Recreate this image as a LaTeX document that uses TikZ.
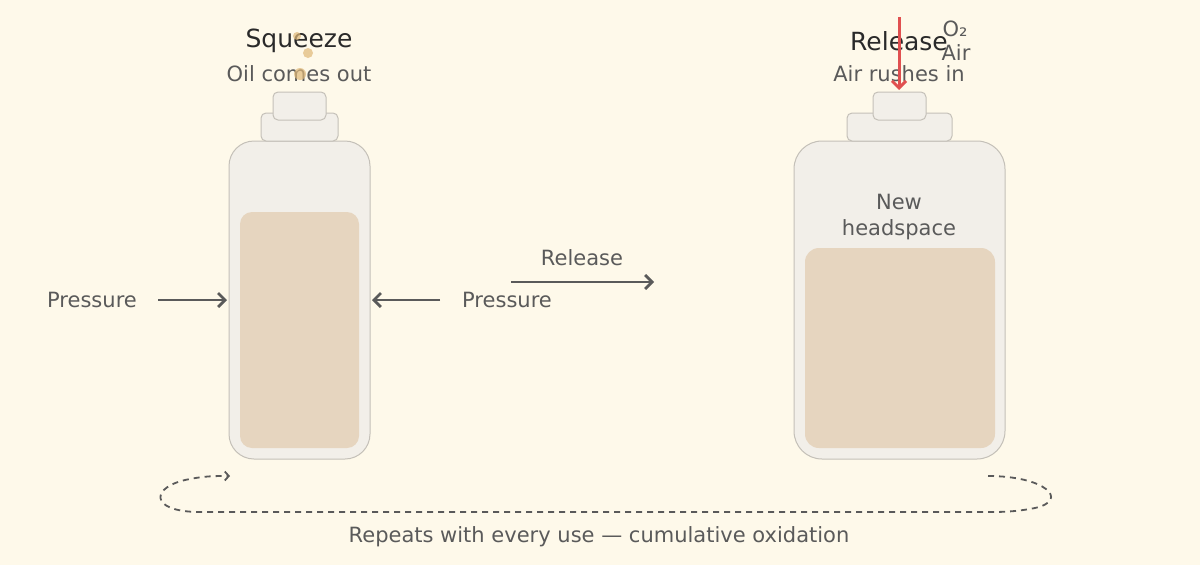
\documentclass[tikz,border=0pt]{standalone}
\usepackage{fontspec}
\setmainfont{DejaVu Sans}
\usetikzlibrary{arrows.meta}
\definecolor{bg}{HTML}{FEF9EA}
\definecolor{bfill}{HTML}{F2EFE9}
\definecolor{bline}{HTML}{C4C0B8}
\definecolor{oil}{HTML}{E6D5BF}
\definecolor{txt}{HTML}{5A5A5A}
\definecolor{ttl}{HTML}{2A2A2A}
\definecolor{drop}{HTML}{E0B878}
\definecolor{red}{HTML}{E05050}
\begin{document}
\begin{tikzpicture}[x=1pt,y=-1pt,
  glass/.style={fill=bfill,draw=bline,line width=1pt},
  oilf/.style={fill=oil,draw=none},
  lbl/.style={text=txt,font=\fontsize{21}{25}\selectfont},
  ttlf/.style={text=ttl,font=\fontsize{25}{30}\selectfont},
  arr/.style={draw=txt,line width=2.8pt,-{Straight Barb[length=7pt,width=14pt]}},
  dsh/.style={draw=txt,line width=1.8pt,dash pattern=on 6pt off 5pt}]
\fill[bg] (0,0) rectangle (1200,565);
\useasboundingbox (0,0) rectangle (1200,565);
% left bottle
\draw[glass,rounded corners=25pt] (229,141) rectangle (370,459);
\fill[oilf,rounded corners=12pt] (240,212) rectangle (359,448);
\draw[glass,rounded corners=5pt] (261,113) rectangle (338,141);
\draw[glass,rounded corners=5pt] (273,92) rectangle (326,120);
% right bottle
\draw[glass,rounded corners=28pt] (794,141) rectangle (1005,459);
\fill[oilf,rounded corners=14pt] (805,248) rectangle (995,448);
\draw[glass,rounded corners=5pt] (847,113) rectangle (952,141);
\draw[glass,rounded corners=5pt] (873,92) rectangle (926,120);
% texts
\node[ttlf] (sq) at (299,41) {Squeeze};
\node[lbl] (oc) at (299,74) {Oil comes out};
\fill[drop,opacity=0.7] (297,36) circle (4pt) (308,53) circle (5pt) (300,74) circle (6pt);
\node[ttlf] (rl) at (899,41) {Release};
\node[lbl] (ar) at (899,74) {Air rushes in};
\node[lbl] (o2) at (955,29) {O₂};
\node[lbl] (air) at (956,53) {Air};
\coordinate (rt) at (899,17);
\coordinate (rb) at (899,90);
\draw[draw=red,line width=3pt,-{Straight Barb[length=7pt,width=14pt]}] (rt) -- (rb);
\node[lbl,align=center] (nh) at (899,217) {New\\[1pt]headspace};
% pressure
\node[lbl] (p1) at (92,300) {Pressure};
\node[lbl] (p2) at (507,300) {Pressure};
\coordinate (a1) at (158,300); \coordinate (a2) at (227,300);
\coordinate (b1) at (440,300); \coordinate (b2) at (372,300);
\draw[arr] (a1) -- (a2);
\draw[arr] (b1) -- (b2);
\node[lbl] (rel) at (582,258) {Release};
\coordinate (c1) at (511,282); \coordinate (c2) at (654,282);
\draw[arr] (c1) -- (c2);
% loop
\coordinate (l1) at (988,476); \coordinate (l2) at (230,476);
\draw[dsh,-{Straight Barb[length=4pt,width=9pt]}] (l1) .. controls (1045,476) and (1070,500) .. (1035,508)
  .. controls (1015,512) and (1000,512) .. (990,512) -- (200,512)
  .. controls (148,512) and (150,486) .. (190,479) .. controls (205,476) and (215,476) .. (l2);
\node[lbl] (rep) at (599,537) {Repeats with every use — cumulative oxidation};
\end{tikzpicture}
\end{document}
